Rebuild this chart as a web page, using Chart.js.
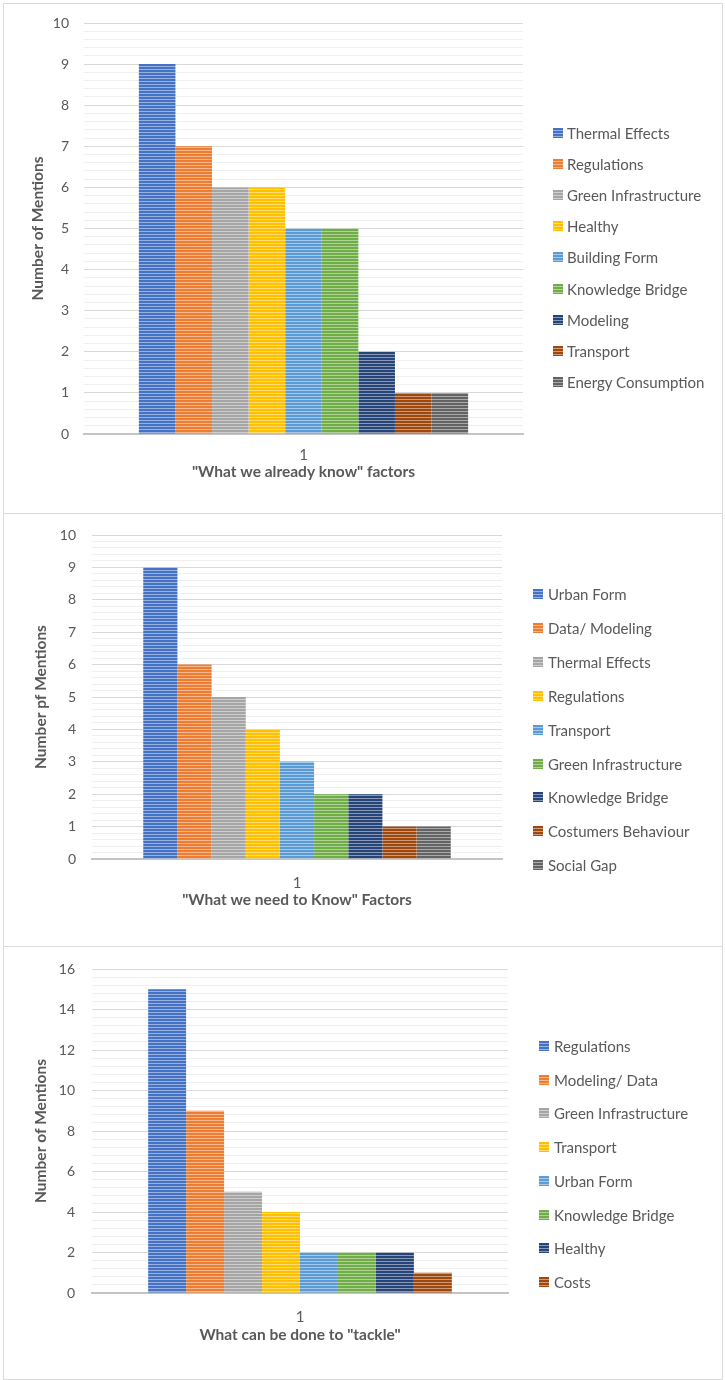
<!DOCTYPE html>
<html>
<head>
<meta charset="utf-8">
<script src="https://cdn.jsdelivr.net/npm/chart.js@4/dist/chart.umd.min.js"></script>
<style>
  body { margin: 0; background: #fff; font-family: Lato, sans-serif; }
  .panel { position: absolute; left: 3px; width: 720px; border: 1px solid #d9d9d9; box-sizing: border-box; background: #fff; }
  .panel canvas { display: block; }
  .item { position: absolute; height: 18px; line-height: 18px; font-size: 15px; color: #595959; white-space: nowrap; }
  .sw { position: absolute; width: 10px; height: 10px; }
</style>
</head>
<body>
<div class="panel" style="top:3px;height:511px">
  <canvas id="c1" width="718" height="509"></canvas>
  <div id="l1"></div>
</div>
<div class="panel" style="top:513px;height:434px">
  <canvas id="c2" width="718" height="432"></canvas>
  <div id="l2"></div>
</div>
<div class="panel" style="top:946px;height:434px">
  <canvas id="c3" width="718" height="432"></canvas>
  <div id="l3"></div>
</div>
<script>
// data
const CATEGORIES = ['1'];

const KNOW_LABELS = ['Thermal Effects', 'Regulations', 'Green Infrastructure', 'Healthy', 'Building Form',
  'Knowledge Bridge', 'Modeling', 'Transport', 'Energy Consumption'];
const KNOW_VALUES = [9, 7, 6, 6, 5, 5, 2, 1, 1];

const NEED_LABELS = ['Urban Form', 'Data/ Modeling', 'Thermal Effects', 'Regulations', 'Transport',
  'Green Infrastructure', 'Knowledge Bridge', 'Costumers Behaviour', 'Social Gap'];
const NEED_VALUES = [9, 6, 5, 4, 3, 2, 2, 1, 1];

const TACKLE_LABELS = ['Regulations', 'Modeling/ Data', 'Green Infrastructure', 'Transport', 'Urban Form',
  'Knowledge Bridge', 'Healthy', 'Costs'];
const TACKLE_VALUES = [15, 9, 5, 4, 2, 2, 2, 1];

// Excel office palette, in series order
const PALETTE = ['#4472C4', '#ED7D31', '#A5A5A5', '#FFC000', '#5B9BD5', '#70AD47', '#264478', '#9E480E', '#636363'];

const TEXT = '#595959';
Chart.defaults.font.family = 'Lato, sans-serif';
Chart.defaults.color = TEXT;

function lighten(hex, k) {
  const n = parseInt(hex.slice(1), 16);
  const ch = [n >> 16, (n >> 8) & 255, n & 255].map(v => Math.round(v + (255 - v) * k));
  return 'rgb(' + ch.join(',') + ')';
}

// narrow horizontal stripes like the Excel pattern fill
function stripes(ctx, hex) {
  const c = document.createElement('canvas');
  c.width = 4; c.height = 3;
  const g = c.getContext('2d');
  g.fillStyle = hex; g.fillRect(0, 0, 4, 3);
  g.fillStyle = lighten(hex, 0.45); g.fillRect(0, 2, 4, 1);
  return ctx.createPattern(c, 'repeat');
}

function makeChart(o) {
  const canvas = document.getElementById(o.canvas);
  const ctx = canvas.getContext('2d');
  const W = canvas.width, H = canvas.height;
  const near = (v, m) => Math.abs(v / m - Math.round(v / m)) < 1e-6;

  const chart = new Chart(ctx, {
    type: 'bar',
    data: {
      labels: CATEGORIES,
      datasets: o.labels.map((l, i) => ({
        label: l,
        data: [o.values[i]],
        backgroundColor: stripes(ctx, PALETTE[i]),
        borderWidth: 0,
        barPercentage: 1,
        categoryPercentage: o.catPct
      }))
    },
    options: {
      responsive: false,
      animation: false,
      layout: { padding: { top: o.area.top, right: W - o.area.right, bottom: 0, left: 0 } },
      plugins: { legend: { display: false }, tooltip: { enabled: false } },
      scales: {
        x: {
          grid: { display: false, drawTicks: false },
          border: { display: true, color: '#c4c4c4', width: 2 },
          ticks: { font: { size: 15 }, padding: o.xTickPad },
          title: {
            display: true, text: o.xTitle,
            font: { size: 15.5, weight: 'bold' },
            padding: { top: 0, bottom: o.xTitlePad }
          },
          afterFit: s => { s.height = H - o.area.bottom; }
        },
        y: {
          min: 0, max: o.max,
          grid: {
            drawTicks: true,
            tickLength: o.yTickGap,
            tickColor: 'rgba(0,0,0,0)',
            color: c => {
              const v = c.tick ? c.tick.value : 0;
              if (v === 0) return '#c4c4c4';
              return near(v, o.major) ? '#d9d9d9' : '#efefef';
            }
          },
          border: { display: false },
          ticks: {
            stepSize: o.minor,
            autoSkip: false,
            font: { size: 14 },
            padding: 0,
            callback: v => near(v, o.major) ? String(Math.round(v)) : ''
          },
          title: {
            display: true, text: o.yTitle,
            font: { size: 15.5, weight: 'bold' },
            padding: { top: o.yTitlePad, bottom: 0 }
          },
          afterFit: s => { s.width = o.area.left; }
        }
      }
    }
  });

  // html legend
  const box = document.getElementById(o.legend);
  Chart.defaults.plugins.legend.labels.generateLabels(chart).forEach((it, i) => {
    const cy = o.leg.y0 + i * o.leg.step;
    const sw = document.createElement('div');
    sw.className = 'sw';
    const col = PALETTE[it.datasetIndex];
    sw.style.left = o.leg.x + 'px';
    sw.style.top = (cy - 5) + 'px';
    sw.style.background = 'repeating-linear-gradient(to bottom,' + col + ' 0 2px,' + lighten(col, 0.45) + ' 2px 3px)';
    const tx = document.createElement('div');
    tx.className = 'item';
    tx.style.left = o.leg.tx + 'px';
    tx.style.top = (cy - 9) + 'px';
    tx.textContent = it.text;
    box.appendChild(sw);
    box.appendChild(tx);
  });
  return chart;
}

makeChart({
  canvas: 'c1', legend: 'l1',
  labels: KNOW_LABELS, values: KNOW_VALUES,
  max: 10, major: 1, minor: 0.2, catPct: 0.75,
  area: { left: 80, right: 519, top: 19, bottom: 430 },
  xTickPad: 12, xTitlePad: 31.7, yTickGap: 15, yTitlePad: 24.7,
  xTitle: '"What we already know" factors', yTitle: 'Number of Mentions',
  leg: { x: 549, tx: 563, y0: 129, step: 31.1 }
});

makeChart({
  canvas: 'c2', legend: 'l2',
  labels: NEED_LABELS, values: NEED_VALUES,
  max: 10, major: 1, minor: 0.2, catPct: 0.75,
  area: { left: 88, right: 498, top: 21, bottom: 345 },
  xTickPad: 15, xTitlePad: 36.7, yTickGap: 16, yTitlePad: 27.7,
  xTitle: '"What we need to Know" Factors', yTitle: 'Number pf Mentions',
  leg: { x: 529, tx: 544, y0: 80, step: 33.9 }
});

makeChart({
  canvas: 'c3', legend: 'l3',
  labels: TACKLE_LABELS, values: TACKLE_VALUES,
  max: 16, major: 2, minor: 0.4, catPct: 0.73,
  area: { left: 88, right: 504, top: 22, bottom: 346 },
  xTickPad: 15, xTitlePad: 34.7, yTickGap: 17, yTitlePad: 27.7,
  xTitle: 'What can be done to "tackle"', yTitle: 'Number of Mentions',
  leg: { x: 535, tx: 550, y0: 99, step: 33.7 }
});
</script>
</body>
</html>
